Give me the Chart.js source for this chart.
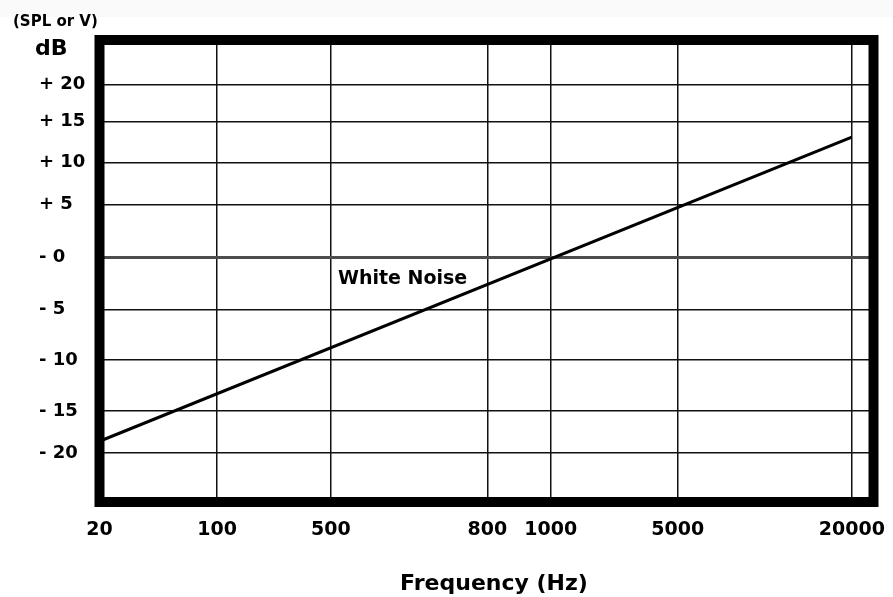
<!DOCTYPE html>
<html>
<head>
<meta charset="utf-8">
<script src="https://cdn.jsdelivr.net/npm/chart.js@4.4.1/dist/chart.umd.min.js"></script>
<style>
  html, body { margin: 0; padding: 0; background: #fff; }
  #wrap { position: relative; width: 893px; height: 597px; }
</style>
</head>
<body>
<div id="wrap"><canvas id="graficoRuido"></canvas></div>
<script>
var freqTicks = [20, 100, 500, 800, 1000, 5000, 20000];
var dbTicks = [20, 15, 10, 5, 0, -5, -10, -15, -20];
var dbLabels = ["+ 20", "+ 15", "+ 10", "+ 5", "- 0", "- 5", "- 10", "- 15", "- 20"];
var noiseFreq = [20, 20000];
var noiseDb = [-18.6, 13.1];

// the printed axes are not to scale: each one is a list of [value, fraction of axis length]
var axisStops = {
  x: [[20, 0], [100, 0.152], [500, 0.299], [800, 0.501], [1000, 0.583], [5000, 0.747], [20000, 0.972], [22000, 1]],
  y: [[-25, 0], [-20, 0.106], [-15, 0.197], [-10, 0.307], [-5, 0.417], [0, 0.53], [5, 0.644], [10, 0.735], [15, 0.823], [20, 0.903], [25, 1]]
};

class StopScale extends Chart.LinearScale {
  fractionFor(v) {
    var s = axisStops[this.axis];
    var i = 1;
    while (i < s.length - 1 && v > s[i][0]) i++;
    var a = s[i - 1], b = s[i];
    return a[1] + (v - a[0]) / (b[0] - a[0]) * (b[1] - a[1]);
  }
  getPixelForValue(v) {
    if (v === null || v === undefined) return NaN;
    return this.getPixelForDecimal(this.fractionFor(v));
  }
  getValueForPixel(p) {
    var s = axisStops[this.axis];
    var d = this.getDecimalForPixel(p);
    var i = 1;
    while (i < s.length - 1 && d > s[i][1]) i++;
    var a = s[i - 1], b = s[i];
    return a[0] + (d - a[1]) / (b[1] - a[1]) * (b[0] - a[0]);
  }
}
StopScale.id = "stops";
Chart.register(StopScale);

Chart.defaults.font.family = "'DejaVu Sans', sans-serif";
Chart.defaults.font.weight = "bold";
Chart.defaults.color = "#000";

var moldura = {
  id: "moldura",
  beforeDraw: function (chart) {
    var ctx = chart.ctx;
    ctx.save();
    ctx.fillStyle = "#fafafa";
    ctx.fillRect(0, 0, chart.width, 17);
    ctx.restore();
  },
  afterDraw: function (chart) {
    var ctx = chart.ctx;
    var a = chart.chartArea;
    var sx = chart.scales.x, sy = chart.scales.y;
    ctx.save();
    ctx.strokeStyle = "#000";
    ctx.lineWidth = 10;
    ctx.lineJoin = "miter";
    ctx.strokeRect(a.left, a.top, a.right - a.left, a.bottom - a.top);

    ctx.fillStyle = "#000";
    ctx.textBaseline = "alphabetic";
    ctx.textAlign = "left";
    ctx.font = "bold 15px 'DejaVu Sans'";
    ctx.fillText("(SPL or V)", 13, 26);
    ctx.font = "bold 22px 'DejaVu Sans'";
    ctx.fillText("dB", 35, 55);

    ctx.font = "bold 19px 'DejaVu Sans'";
    ctx.fillText("White Noise", sx.getPixelForValue(500) + 7, sy.getPixelForValue(0) + 27);

    ctx.textAlign = "center";
    ctx.font = "bold 22px 'DejaVu Sans'";
    ctx.fillText("Frequency (Hz)", 494, 590);
    ctx.restore();
  }
};

document.addEventListener("DOMContentLoaded", function () {
  var ctx = document.getElementById("graficoRuido").getContext("2d");
  var graficoRuido = new Chart(ctx, {
    type: "line",
    data: {
      datasets: [
        {
          label: "White Noise",
          data: noiseFreq.map(function (f, i) { return { x: f, y: noiseDb[i] }; }),
          borderColor: "#000",
          borderWidth: 3,
          pointRadius: 0,
          tension: 0,
          fill: false,
        },
      ],
    },
    options: {
      responsive: true,
      maintainAspectRatio: false,
      animation: false,
      events: [],
      layout: { padding: { left: 39, top: 40, right: 19.5, bottom: 55 } },
      plugins: { legend: { display: false }, tooltip: { enabled: false } },
      scales: {
        x: {
          type: "stops",
          min: 20,
          max: 22000,
          afterBuildTicks: function (scale) {
            scale.ticks = freqTicks.map(function (v) { return { value: v }; });
          },
          afterFit: function (scale) {
            scale.height = 40;
            scale.paddingLeft = 0;
            scale.paddingRight = 0;
          },
          ticks: {
            autoSkip: false,
            maxRotation: 0,
            padding: 17,
            font: { size: 19, weight: "bold" },
            callback: function (v) { return String(v); },
          },
          grid: { drawTicks: false, color: "#111", lineWidth: 1.5 },
          border: { display: false },
        },
        y: {
          type: "stops",
          min: -25,
          max: 25,
          afterBuildTicks: function (scale) {
            scale.ticks = dbTicks.map(function (v) { return { value: v }; });
          },
          afterFit: function (scale) {
            scale.width = 60.5;
            scale.paddingTop = 0;
            scale.paddingBottom = 0;
          },
          ticks: {
            autoSkip: false,
            crossAlign: "far",
            font: { size: 18, weight: "bold" },
            callback: function (v, i) { return dbLabels[i]; },
          },
          grid: {
            drawTicks: false,
            color: function (c) { return c.tick && c.tick.value === 0 ? "#4d4d4d" : "#111"; },
            lineWidth: function (c) { return c.tick && c.tick.value === 0 ? 3 : 1.5; },
          },
          border: { display: false },
        },
      },
    },
    plugins: [moldura],
  });
});
</script>
</body>
</html>
